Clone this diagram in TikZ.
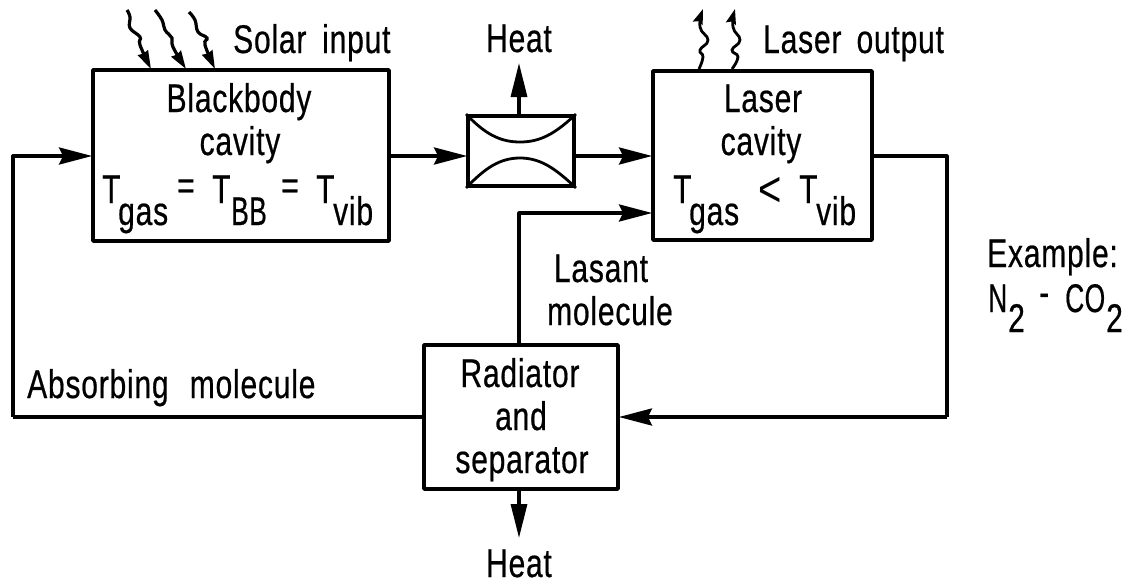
\documentclass[tikz,border=0pt]{standalone}
\usepackage{fontspec}
\setmainfont[FakeStretch=0.75,FakeBold=0.5,LetterSpace=2]{Liberation Sans}
\newfontfamily\thinfont[FakeStretch=0.8]{Liberation Sans}
\newfontfamily\narrowfont[FakeStretch=0.66,FakeBold=0.5,LetterSpace=1]{Liberation Sans}
\usetikzlibrary{arrows.meta}
\tikzset{
  x=1pt,y=-1pt,
  boxn/.style={draw,line width=3.8pt,line join=round,minimum width=#1,inner sep=0pt},
  conn/.style={line width=3.2pt,line join=round},
  flow/.style={conn,-{Stealth[length=33pt,width=17pt,inset=4pt]},shorten >=-1pt},
  heatflow/.style={conn,-{Stealth[length=34pt,width=16pt,inset=0pt]}},
  waveup/.style={line width=2.8pt,-{Stealth[length=15pt,width=10pt,inset=2pt]}},
  wavedn/.style={line width=3.2pt,-{Stealth[length=18pt,width=11pt,inset=1pt]}},
  txt/.style={anchor=base,inner sep=0pt,font=\fontsize{40}{40}\selectfont},
  txtl/.style={anchor=base west,inner sep=0pt,font=\fontsize{40}{40}\selectfont},
  capn/.style={anchor=base west,inner sep=0pt,font=\fontsize{40}{40}\narrowfont},
}
\begin{document}
\begin{tikzpicture}
\useasboundingbox (0,0) rectangle (1129,584);
% boxes
\node[boxn=296pt,minimum height=171pt] (bb) at (241,155.5) {};
\node[boxn=219pt,minimum height=169pt] (lc) at (762.5,155.5) {};
\node[boxn=106pt,minimum height=70pt] (nz) at (521,151) {};
\node[boxn=194pt,minimum height=144pt] (rad) at (521,417) {};
% free ends and corners
\coordinate (tl) at (13,156);
\coordinate (bl) at (13,417);
\coordinate (tr) at (947,156);
\coordinate (br) at (947,417);
\coordinate (up) at (519,213);
\coordinate (heatA) at (519,63);
\coordinate (heatB) at (519,538);
% nozzle contours
\draw[line width=2.8pt] (nz.north west) .. controls (485,134) and (500,142) .. (520,142) .. controls (540,142) and (555,134) .. (nz.north east);
\draw[line width=2.8pt] (nz.south west) .. controls (485,168) and (500,158) .. (520,158) .. controls (540,158) and (555,168) .. (nz.south east);
% connectors
\draw[flow] (bl) -- (tl) -- (bb.west |- tl);
\draw[conn] (rad.west |- bl) -- (bl);
\draw[flow] (bb.east |- tl) -- (nz.west |- tl);
\draw[flow] (nz.east |- tl) -- (lc.west |- tl);
\draw[conn] (lc.east |- tr) -- (tr) -- (br);
\draw[flow] (br) -- (rad.east |- br);
\draw[flow] ([xshift=-2pt]rad.north) -- (up) -- (lc.west |- up);
\draw[heatflow] ([xshift=-2pt]nz.north) -- (heatA);
\draw[heatflow] ([xshift=-2pt]rad.south) -- (heatB);
% wavy rays
\draw[wavedn] plot[smooth,tension=0.7] coordinates {(127,10) (130,17) (130,28) (140,37) (140,45) (151,69)};
\draw[wavedn] plot[smooth,tension=0.7] coordinates {(155,10) (162,20) (165,30) (172,38) (173,47) (186,69)};
\draw[wavedn] plot[smooth,tension=0.7] coordinates {(189,12) (195,20) (198,32) (207,38) (205,45) (215,69)};
\draw[waveup] plot[smooth,tension=0.8] coordinates {(699,69) (703,57) (700,50) (708,40) (700,27) (703,9)};
\draw[waveup] plot[smooth,tension=0.8] coordinates {(732,69) (738,57) (732,50) (740,40) (733,27) (735,9)};
% labels
\node[txtl] (t1) at (233,53) {Solar\, input};
\node[txt] (t2) at (519,52) {Heat};
\node[txtl] (t3) at (763,53) {Laser\hspace{6pt} output};
\node[txt] (t4) at (239,112) {Blackbody};
\node[txt] (t5) at (240,155) {cavity};
\node[txtl] (t6) at (102,203) {T};
\node[txtl] (t7) at (118,225) {gas};
\node[txtl] (t8) at (177,199) {=};
\node[txtl] (t9) at (212,203) {T};
\node[capn] (t10) at (231,225) {BB};
\node[txtl] (t11) at (281,199) {=};
\node[txtl] (t12) at (316,203) {T};
\node[txtl] (t13) at (333,225) {vib};
\node[txt] (t14) at (763,112) {Laser};
\node[txt] (t15) at (761,155) {cavity};
\node[txtl] (t16) at (673,203) {T};
\node[txtl] (t17) at (689,225) {gas};
\node[txtl,font=\fontsize{50}{50}\thinfont] (t18) at (758,206) {<};
\node[txtl] (t19) at (799,203) {T};
\node[txtl] (t20) at (816,225) {vib};
\node[txt] (t21) at (601,282) {Lasant};
\node[txt] (t22) at (610,325) {molecule};
\node[txt] (t23) at (520,387) {Radiator};
\node[txt] (t24) at (521,430) {and};
\node[txt] (t25) at (522,473) {separator};
\node[txt] (t26) at (519,577) {Heat};
\node[txtl] (t27) at (27,398) {Absorbing\hspace{12pt} molecule};
\node[txtl] (t28) at (987,267) {Example:};
\node[capn] (t29) at (988,312) {N};
\node[txtl] (t30) at (1008,332) {2};
\node[txtl] (t31) at (1039,306) {-};
\node[capn] (t32) at (1065,312) {CO};
\node[txtl] (t33) at (1106,332) {2};
\end{tikzpicture}
\end{document}
